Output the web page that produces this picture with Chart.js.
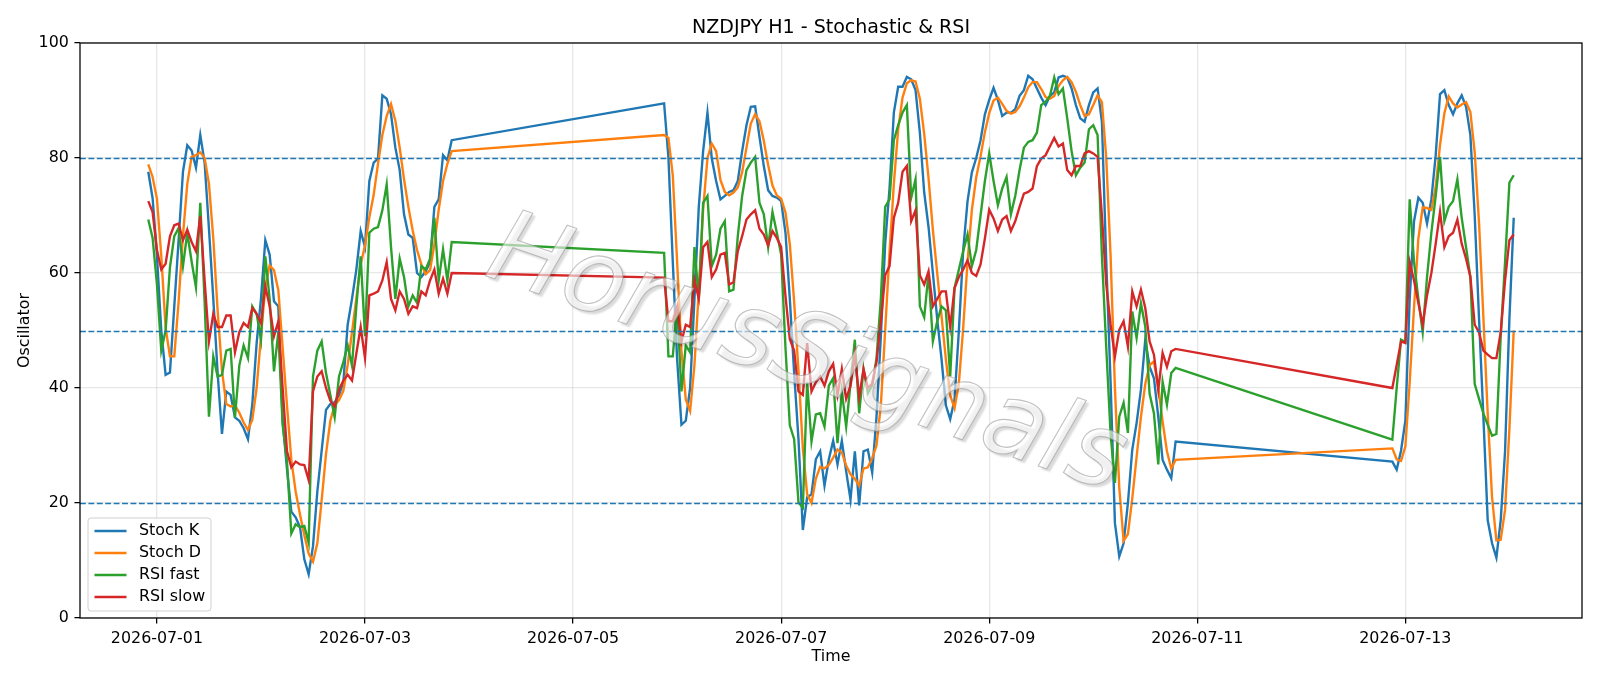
<!DOCTYPE html>
<html>
<head>
<meta charset="utf-8">
<script src="https://cdn.jsdelivr.net/npm/chart.js@4.4.1/dist/chart.umd.min.js"></script>
<style>
  html, body { margin: 0; padding: 0; background: #fff; }
  canvas { display: block; }
</style>
</head>
<body>
<canvas id="oscChart" width="1600" height="686"></canvas>
<script>
// Trading sessions, in hours after 2026-07-01 00:00 (one bar per hour)
const sessions = [[-2, 68], [117, 235], [285, 313]];

const tickHours = [0, 48, 96, 144, 192, 240, 288];
const tickLabels = ['2026-07-01', '2026-07-03', '2026-07-05', '2026-07-07', '2026-07-09', '2026-07-11', '2026-07-13'];
const levels = [80, 50, 20];

const stochK = [
  77.6, 73, 63, 50, 42.3, 42.7, 54.2, 65.7, 77.6, 82.2, 81.3, 78.3, 84, 79.2, 67.7, 55.5, 42.6, 32, 39.4, 38.8,
  34.9, 34.3, 33, 31.1, 37.2, 47.8, 55.5, 65.7, 63.2, 55.1, 54.2, 34.3, 25.9, 18.5, 17.5, 15.8, 10.2, 7.6, 12.5, 22,
  29.1, 36.2, 37.2, 37.5, 38.8, 41, 51, 55.5, 60.6, 67.3, 64.5, 76, 79.2, 79.9, 90.9, 90.3, 87.6, 81.8, 77.9, 70.2,
  66.7, 66.1, 60, 59.3, 60.3, 61.9, 71.5, 72.8, 80.5, 79.6, 83.1,
  89.5, 80, 62, 45, 33.6, 34.3, 40, 55.5, 71.5, 81.2,
  87.9, 79.9, 76, 72.8, 73.4, 74.1, 74.4, 76, 81.2, 85.7,
  88.9, 89, 83.7, 78.6, 74.4, 73.4, 73.1, 72.5, 67, 55.5,
  42.6, 31.1, 15.3, 21, 21.5, 27.6, 29, 23, 27.6, 30.8,
  26.7, 30.8, 25.5, 20.6, 29, 19.6, 29, 29.3, 25.3, 35,
  49, 65.1, 74.7, 87.9, 92.4, 92.4, 94.1, 93.7, 91.8, 84.4,
  74, 68, 60, 52, 45, 37, 34.6, 38, 50, 64,
  72.5, 77.5, 80, 83.1, 87.6, 90.1, 92.2, 90.1, 87.3, 87.9,
  87.9, 88.5, 90.8, 91.8, 94.3, 93.7, 92.1, 90.5, 89.2, 90.8,
  91.4, 94, 94.3, 94, 92.1, 89.2, 86.9, 86.3, 89.2, 91.4,
  92.1, 86.3, 62, 41, 16.5, 10.7, 13, 20, 29.3, 33.9,
  39.7, 48.4, 43.7, 41.7, 35, 27.5, 25.8, 24.3, 30.7,
  27.2, 25.8, 29.1, 34.3, 55.5, 69, 73.1, 72.2, 68.6, 72.8,
  80.5, 91.1, 91.8, 89.2, 87.6, 89.5, 90.9, 88.9, 84, 70,
  52, 35, 17, 13, 10.5, 17, 29, 52, 69.6
];

const stochD = [
  78.9, 76.7, 72.9, 63, 50.5, 45.5, 45.5, 55, 66.5, 75.5, 80.2, 80.5, 81, 80, 75.5, 66, 53.5, 43, 37.2, 36.8,
  37, 35.7, 34, 32.7, 34.5, 40, 49, 57.5, 61.3, 60.5, 57, 47, 37, 27.5, 22, 18, 14.4, 11.2, 9.8, 13,
  20.5, 28.5, 34.3, 37, 37.9, 39.5, 44, 49.7, 55.6, 61.5, 64.8, 69.7, 73.6, 79, 84, 87.3, 89.4, 86.5, 81.8, 76.3,
  71.5, 67.4, 64, 61.5, 59.8, 60.5, 65, 71, 76, 79, 81.2,
  84, 83.5, 77, 62, 46.5, 38, 36, 44, 57, 71,
  80, 82.5, 81.2, 76.2, 74.1, 73.5, 74, 74.9, 77.5, 81.8,
  86, 87.6, 86.4, 83, 78.8, 75.2, 73.5, 72.9, 70.5, 65,
  55, 43, 29.6, 21.5, 20, 24.2, 26.3, 26, 26.6, 27.9,
  29.3, 28.8, 26.5, 25, 24.2, 23, 26, 26.2, 27.8, 30,
  37, 50, 63.5, 75.5, 85, 90.5, 93, 93.5, 93.3, 90.3,
  84.2, 76.5, 67.5, 60, 52.5, 45, 38.7, 36.5, 40.8, 50.5,
  62, 71, 76.6, 80.3, 84.5, 87.8, 90, 90.5, 89.4, 88.2,
  87.7, 88, 89, 90.5, 92.3, 93.2, 93.2, 92, 90.6, 90.3,
  90.8, 92.5, 93.5, 94.1, 93.2, 91.5, 89.2, 87.3, 87.6, 89.2,
  90.9, 89.7, 80, 63, 40, 22.7, 13.4, 14.6, 20.8, 28,
  35, 40.7, 44, 44.6, 40.1, 34.2, 29, 26, 27.5,
  29.5, 27.6, 27.3, 29.8, 41, 54, 66, 71.4, 71.3, 71,
  75, 82.3, 87.8, 90.7, 89.5, 88.8, 89.3, 89.7, 88, 81,
  68.7, 52.3, 35.5, 21, 13.5, 13.6, 18.8, 32.8, 50
];

const rsiFast = [
  69.3, 66.1, 58, 46.5, 50, 61, 66.4, 67.8, 61.2, 67, 62, 57.5, 72.2, 55, 35, 45.5, 42, 42.3, 46.5, 46.8,
  34.9, 43.9, 47.4, 45.2, 54.2, 52.9, 48.4, 62.9, 55.5, 42.9, 49.7, 33.6, 27.2, 14.7, 16.3, 15.8, 16, 13.1, 42, 46.5,
  48.1, 42.6, 38.8, 34.9, 42, 44.5, 47.4, 43.9, 54.2, 62.9, 49, 67, 67.7, 68, 70.9, 75.4, 64.5, 55.5, 62.5, 59.3,
  54.2, 56.1, 54.8, 61.2, 60.6, 62.5, 69.6, 58.7, 64.1, 58.7, 65.4,
  63.5, 45.5, 45.5, 54.2, 39.4, 47.4, 46.2, 64.5, 55.5, 72.2,
  73.4, 61.2, 63.2, 67.7, 69, 56.8, 57.1, 66.4, 73.4, 77.9,
  79.2, 80.2, 72.2, 70.2, 64.5, 70.6, 67, 63.2, 47, 33.5,
  31.1, 20.1, 19.2, 41, 30.7, 35.4, 35.6, 33.3, 40.4, 41.7,
  30.4, 39.4, 33.3, 40.7, 48.4, 35.6, 43.3, 39.1, 40.4, 45.2,
  55.5, 71.5, 72.8, 83.1, 85.7, 87.9, 89.2, 73.1, 76.3, 54.2,
  52.3, 60, 48.1, 51.6, 54.2, 53.5, 42, 57.4, 60.6, 63.8,
  66.7, 61.2, 64, 70, 76, 80.8, 76, 71.8, 74.7, 76.7,
  70.2, 73.4, 77.9, 81.8, 82.8, 83.1, 84.4, 89.2, 89.8, 90.8,
  94, 91.1, 92.1, 86.9, 81.2, 77, 78.3, 79.2, 85, 85.7,
  84, 63, 47, 32, 23.5, 35, 37.4, 32.2, 53.3, 48.7,
  54.7, 50.7, 39, 35.6, 26.7, 41.1, 37.1, 42.6, 43.5,
  31, 40, 48.4, 48, 72.8, 61.9, 55.5, 49.7, 59.3, 67,
  73.4, 80.2, 69, 71.5, 72.5, 76.3, 69.6, 64.5, 59.3, 40.7,
  38.1, 35.6, 33.6, 31.7, 32, 49, 61.9, 75.7, 77
];

const rsiSlow = [
  72.5, 70.6, 64, 60.6, 61.6, 66.4, 68.3, 68.6, 65.7, 67.5, 65.4, 63.8, 69.9, 58.7, 48.1, 52.9, 50.6, 50.6, 52.6, 52.6,
  46.2, 49.7, 51.3, 50.6, 53.9, 52.9, 51.3, 57.7, 54.2, 49, 51.6, 40, 29, 26.2, 27.2, 26.7, 26.6, 24, 39.4, 42,
  42.9, 40, 37.8, 36.8, 39.7, 41.3, 42.3, 41.3, 46, 50.6, 45.2, 56.1, 56.4, 56.8, 58.7, 61.9, 55.5, 53.5, 56.8, 55.5,
  52.9, 54.2, 53.9, 56.8, 56.1, 58.7, 60.6, 56.4, 59, 56.4, 60,
  59.2, 51.6, 51.6, 54.2, 48.1, 51, 50.6, 58.8, 55.5, 64.5,
  65.4, 59.3, 60.6, 63.2, 63.5, 58, 58.4, 63.8, 66.4, 69.3,
  70.2, 70.9, 67.7, 66.7, 64.8, 67.3, 66.1, 64.5, 56, 48.5,
  46.5, 39.4, 38.8, 47.8, 39.4, 41, 42, 40.4, 42.9, 44.2,
  38.8, 43.3, 38.1, 40.4, 45.8, 38.4, 43.3, 40, 40.7, 44.5,
  51.6, 59.6, 61.2, 69.6, 72.2, 77.6, 78.6, 69, 70.9, 59.6,
  58, 60.3, 54.2, 55.5, 56.8, 56.8, 50.6, 57.4, 59.3, 60.6,
  62.2, 60, 59.5, 61.5, 66, 71, 69.5, 67.3, 69.3, 69.9,
  67.3, 69, 71.5, 73.8, 74.1, 74.7, 78.6, 79.9, 80.5, 82,
  83.5, 82, 82.5, 77.9, 77, 78.6, 78.6, 80.8, 81.2, 80.8,
  80.2, 70, 58, 51, 45.5, 50.1, 51.6, 47.2, 56.8, 54.2,
  57.1, 53.9, 48.1, 45.8, 39.7, 46.1, 43.7, 46.4, 46.8,
  40, 44, 48.1, 47.8, 61.9, 58.7, 54.8, 51, 56.1, 60,
  65.1, 70.6, 64.5, 66.4, 67, 69.3, 65.1, 62.5, 59.3, 51,
  49.7, 46.5, 45.8, 45.2, 45.2, 49.7, 58.7, 65.7, 66.7
];

const seriesNames = ['Stoch K', 'Stoch D', 'RSI fast', 'RSI slow'];
const seriesColors = ['#1f77b4', '#ff7f0e', '#2ca02c', '#d62728'];

// hourly x positions for every bar
const hours = [];
sessions.forEach(([a, b]) => { for (let h = a; h <= b; h++) hours.push(h); });

const toPoints = vals => vals.map((v, i) => ({ x: hours[i], y: v }));

const PT = 1600 / 14 / 72;   // px per point (figure 14in wide)
const FONT = 'DejaVu Sans';

Chart.defaults.font.family = FONT;
Chart.defaults.font.size = 10 * PT;
Chart.defaults.color = '#000';

// reference lines, frame, titles, legend and watermark
const decorations = {
  id: 'decorations',
  afterDatasetsDraw(chart) {
    const { ctx, chartArea: a, scales: { y } } = chart;
    ctx.save();
    ctx.strokeStyle = '#1f77b4';
    ctx.lineWidth = 1 * PT;
    ctx.setLineDash([3.7 * PT, 1.6 * PT]);
    levels.forEach(v => {
      const py = Math.round(y.getPixelForValue(v)) + 0.5;
      ctx.beginPath();
      ctx.moveTo(a.left, py);
      ctx.lineTo(a.right, py);
      ctx.stroke();
    });
    ctx.setLineDash([]);
    ctx.strokeStyle = '#000';
    ctx.lineWidth = 0.8 * PT;
    ctx.strokeRect(a.left, a.top, a.right - a.left, a.bottom - a.top);
    ctx.restore();
  },
  afterDraw(chart) {
    const { ctx, chartArea: a } = chart;
    ctx.save();
    ctx.fillStyle = '#000';
    ctx.textAlign = 'center';

    // title
    ctx.font = `${12 * PT}px ${FONT}`;
    ctx.textBaseline = 'alphabetic';
    ctx.fillText('NZDJPY H1 - Stochastic & RSI', (a.left + a.right) / 2, 33);

    // axis labels
    ctx.font = `${10 * PT}px ${FONT}`;
    ctx.textBaseline = 'middle';
    ctx.fillText('Time', (a.left + a.right) / 2, 657);
    ctx.save();
    ctx.translate(25, (a.top + a.bottom) / 2);
    ctx.rotate(-Math.PI / 2);
    ctx.fillText('Oscillator', 0, 0);
    ctx.restore();

    // legend (lower left)
    const bx = 88, by = 518, bw = 123, bh = 93, r = 3;
    ctx.beginPath();
    ctx.moveTo(bx + r, by);
    ctx.arcTo(bx + bw, by, bx + bw, by + bh, r);
    ctx.arcTo(bx + bw, by + bh, bx, by + bh, r);
    ctx.arcTo(bx, by + bh, bx, by, r);
    ctx.arcTo(bx, by, bx + bw, by, r);
    ctx.closePath();
    ctx.fillStyle = 'rgba(255,255,255,0.8)';
    ctx.fill();
    ctx.strokeStyle = '#d0d0d0';
    ctx.lineWidth = 1;
    ctx.stroke();
    ctx.textAlign = 'left';
    seriesNames.forEach((name, i) => {
      const ry = 531 + i * 22;
      ctx.strokeStyle = seriesColors[i];
      ctx.lineWidth = 1.5 * PT;
      ctx.beginPath();
      ctx.moveTo(94.5, ry);
      ctx.lineTo(126.5, ry);
      ctx.stroke();
      ctx.fillStyle = '#000';
      ctx.fillText(name, 139, ry);
    });

    // watermark
    ctx.translate(806, 358);
    ctx.rotate(19 * Math.PI / 180);
    ctx.font = `italic 102px ${FONT}`;
    ctx.textAlign = 'center';
    ctx.textBaseline = 'middle';
    ctx.shadowColor = 'rgba(0,0,0,0.25)';
    ctx.shadowOffsetX = 3;
    ctx.shadowOffsetY = 3;
    ctx.shadowBlur = 2;
    ctx.fillStyle = 'rgba(255,255,255,0.6)';
    ctx.fillText('HorusSignals', 0, 0);
    ctx.shadowColor = 'transparent';
    ctx.strokeStyle = 'rgba(160,160,160,0.65)';
    ctx.lineWidth = 1.1;
    ctx.strokeText('HorusSignals', 0, 0);
    ctx.restore();
  }
};

const ctx = document.getElementById('oscChart').getContext('2d');
new Chart(ctx, {
  type: 'line',
  data: {
    datasets: [stochK, stochD, rsiFast, rsiSlow].map((vals, i) => ({
      label: seriesNames[i],
      data: toPoints(vals),
      borderColor: seriesColors[i],
      backgroundColor: seriesColors[i],
      borderWidth: 1.5 * PT,
      pointRadius: 0,
      tension: 0,
      fill: false,
      order: 3 - i
    }))
  },
  options: {
    responsive: false,
    animation: false,
    devicePixelRatio: 1,
    layout: { padding: { top: 43, right: 18, bottom: 0, left: 0 } },
    plugins: {
      legend: { display: false },
      title: { display: false },
      tooltip: { enabled: false }
    },
    scales: {
      x: {
        type: 'linear',
        min: -17.75,
        max: 328.75,
        afterBuildTicks: s => { s.ticks = tickHours.map(v => ({ value: v })); },
        afterFit: s => { s.height = 68; s.paddingLeft = 0; s.paddingRight = 0; },
        ticks: {
          callback: v => tickLabels[tickHours.indexOf(v)],
          padding: 3.5 * PT,
          maxRotation: 0,
          autoSkip: false
        },
        grid: {
          color: 'rgba(176,176,176,0.3)',
          lineWidth: 0.8 * PT,
          tickColor: '#000',
          tickLength: 3.5 * PT,
          tickWidth: 0.8 * PT
        },
        border: { display: false }
      },
      y: {
        min: 0,
        max: 100,
        afterFit: s => { s.width = 80; s.paddingTop = 0; s.paddingBottom = 0; },
        ticks: { stepSize: 20, padding: 3.5 * PT },
        grid: {
          color: 'rgba(176,176,176,0.3)',
          lineWidth: 0.8 * PT,
          tickColor: '#000',
          tickLength: 3.5 * PT,
          tickWidth: 0.8 * PT
        },
        border: { display: false }
      }
    }
  },
  plugins: [decorations]
});
</script>
</body>
</html>
